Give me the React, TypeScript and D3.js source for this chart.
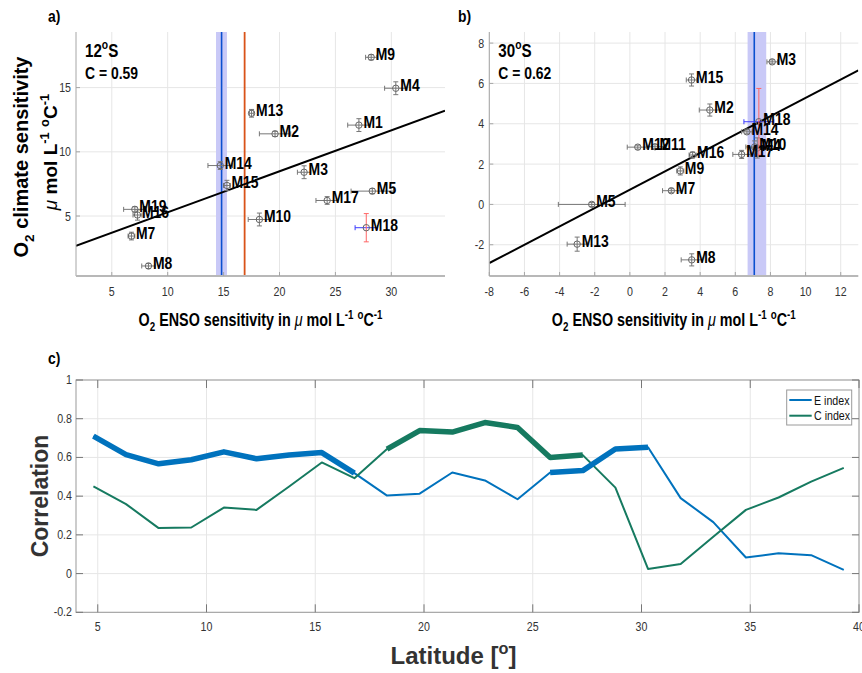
import React from "react";
import * as d3 from "d3";

// ---------------- DATA ----------------
// Panel a (12°S)
const aNames = ["M1", "M2", "M3", "M4", "M5", "M7", "M8", "M9", "M10", "M13", "M14", "M15", "M16", "M17", "M18", "M19"];
const aEnso = [27.1, 19.6, 22.2, 30.4, 28.3, 6.76, 8.28, 28.2, 18.2, 17.5, 14.7, 15.3, 7.3, 24.26, 27.76, 7.06];
const aClimate = [12.08, 11.4, 8.41, 14.95, 6.94, 3.44, 1.11, 17.36, 4.73, 13.0, 8.93, 7.38, 5.08, 6.21, 4.09, 5.52];
const aEnsoErr = [1.0, 1.4, 0.6, 1.0, 1.9, 0.3, 0.6, 0.5, 1.0, 0.2, 1.1, 0.3, 0.4, 1.0, 1.0, 1.0];
const aClimErr = [0.5, 0.2, 0.5, 0.5, 0.2, 0.3, 0.2, 0.2, 0.5, 0.3, 0.3, 0.4, 0.4, 0.3, 1.1, 0.2];
const aFit = { intercept: 2.1, slope: 0.319 };
const aMean = 14.82;
const aBand = [14.32, 15.3];
const aObs = 16.88;

// Panel b (30°S)
const bNames = ["M2", "M3", "M4", "M5", "M7", "M8", "M9", "M10", "M11", "M12", "M13", "M14", "M15", "M16", "M17", "M18"];
const bEnso = [4.55, 8.1, 7.25, -2.17, 2.36, 3.52, 2.87, 7.1, 1.43, 0.45, -3.0, 6.66, 3.51, 3.57, 6.36, 7.34];
const bClimate = [4.68, 7.07, 2.8, 0.0, 0.68, -2.75, 1.66, 2.85, 2.86, 2.84, -1.97, 3.6, 6.17, 2.45, 2.48, 4.1];
const bEnsoErr = [0.6, 0.3, 0.5, 1.9, 0.5, 0.6, 0.2, 0.5, 0.5, 0.6, 0.57, 0.3, 0.3, 0.2, 0.5, 0.85];
const bClimErr = [0.3, 0.1, 0.5, 0.1, 0.1, 0.3, 0.2, 0.3, 0.1, 0.1, 0.35, 0.1, 0.3, 0.15, 0.2, 1.65];
const bFit = { intercept: 0.73, slope: 0.455 };
const bMean = 7.08;
const bBand = [6.7, 7.76];

// Panel c
const latitudes = [4.8, 6.3, 7.8, 9.3, 10.8, 12.3, 13.8, 15.3, 16.8, 18.3, 19.8, 21.3, 22.8, 24.3, 25.8, 27.3, 28.8, 30.3, 31.8, 33.3, 34.8, 36.3, 37.8, 39.3];
const eIndex = [0.71, 0.615, 0.567, 0.588, 0.629, 0.593, 0.613, 0.625, 0.519, 0.403, 0.413, 0.522, 0.481, 0.384, 0.522, 0.532, 0.644, 0.653, 0.39, 0.266, 0.083, 0.105, 0.095, 0.019];
const cIndex = [0.45, 0.359, 0.235, 0.238, 0.341, 0.329, 0.45, 0.574, 0.493, 0.643, 0.739, 0.731, 0.78, 0.755, 0.6, 0.612, 0.444, 0.024, 0.05, 0.19, 0.329, 0.393, 0.475, 0.546];
const eSignificant = [1, 1, 1, 1, 1, 1, 1, 1, 1, 0, 0, 0, 0, 0, 1, 1, 1, 1, 0, 0, 0, 0, 0, 0];
const cSignificant = [0, 0, 0, 0, 0, 0, 0, 0, 0, 1, 1, 1, 1, 1, 1, 1, 0, 0, 0, 0, 0, 0, 0, 0];

const aXTicks = [5, 10, 15, 20, 25, 30];
const aYTicks = [5, 10, 15];
const bXTicks = [-8, -6, -4, -2, 0, 2, 4, 6, 8, 10, 12];
const bYTicks = [-2, 0, 2, 4, 6, 8];
const cXTicks = [5, 10, 15, 20, 25, 30, 35, 40];
const cYTicks = [-0.2, 0, 0.2, 0.4, 0.6, 0.8, 1];

// ---------------- STYLE ----------------
const REG = "'Liberation Sans', Arial, sans-serif";
const GRID = "#e6e6e6";
const AXIS = "#a6a6a6";
const TICKTXT = "#333";
const E_COL = "#0072BD";
const C_COL = "#167a60";
const SQ = 0.82; // horizontal condensation of narrow text

type Part = { t: string; s?: "sup" | "sub" };

function Rich({ parts, ...rest }: { parts: Part[]; [k: string]: any }) {
  let cur = 0;
  const fs = parseFloat(rest.fontSize) || 16;
  return (
    <text {...rest}>
      {parts.map((p, i) => {
        const target = p.s === "sup" ? -0.42 * fs : p.s === "sub" ? 0.3 * fs : 0;
        const dy = target - cur;
        cur = target;
        return (
          <tspan key={i} dy={dy} fontSize={p.s ? fs * 0.68 : fs} fontStyle={p.t === "μ" ? "italic" : undefined} fontWeight={p.t === "μ" ? "normal" : undefined}>
            {p.t}
          </tspan>
        );
      })}
    </text>
  );
}

// condensed text: rendered in Liberation Sans, squeezed horizontally
function NText({ x, y, parts, text, anchor, size, bold, fill }: any) {
  const p: Part[] = parts || [{ t: String(text) }];
  return (
    <g transform={`translate(${x},${y}) scale(${SQ},1)`}>
      <Rich x={0} y={0} textAnchor={anchor || "start"} fontFamily={REG} fontWeight={bold ? "bold" : "normal"} fontSize={size} fill={fill || "#000"} parts={p} />
    </g>
  );
}

const xLabelParts: Part[] = [
  { t: "O" }, { t: "2", s: "sub" }, { t: " ENSO sensitivity in " }, { t: "μ" }, { t: " mol L" },
  { t: "-1", s: "sup" }, { t: " " }, { t: "o", s: "sup" }, { t: "C" }, { t: "-1", s: "sup" },
];

function Scatter({ names, xs, ys, xe, ye, x, y, x0, x1, y0, y1, xTicks, yTicks, fit, mean, band, obs, lat, corr, tag }: any) {
  const n = names.length;
  const fitLine = d3.line<number>().x((v) => x(v)).y((v) => y(fit.intercept + fit.slope * v));
  const [dx0, dx1] = x.domain();
  const clipId = "clip" + tag;
  return (
    <g>
      <defs>
        <clipPath id={clipId}>
          <rect x={x0} y={y1} width={x1 - x0} height={y0 - y1} />
        </clipPath>
      </defs>
      {xTicks.map((t: number) => (
        <line key={"gx" + t} x1={x(t)} x2={x(t)} y1={y0} y2={y1} stroke={GRID} />
      ))}
      {yTicks.map((t: number) => (
        <line key={"gy" + t} x1={x0} x2={x1} y1={y(t)} y2={y(t)} stroke={GRID} />
      ))}
      <rect x={x(band[0])} y={y1} width={x(band[1]) - x(band[0])} height={y0 - y1} fill="#c9c9f7" />
      <line x1={x(mean)} x2={x(mean)} y1={y0} y2={y1} stroke="#0a4fd0" strokeWidth={1.6} />
      {obs !== undefined && <line x1={x(obs)} x2={x(obs)} y1={y0} y2={y1} stroke="#d95319" strokeWidth={1.8} />}
      <path d={fitLine([dx0, dx1]) || ""} stroke="#000" strokeWidth={2} fill="none" clipPath={`url(#${clipId})`} />
      {d3.range(n).map((i) => {
        const special = names[i] === "M18";
        const hc = special ? "#3b3bff" : "#777";
        const vc = special ? "#ff6666" : "#777";
        const cx = x(xs[i]);
        const cy = y(ys[i]);
        const xa = x(xs[i] - xe[i]);
        const xb = x(xs[i] + xe[i]);
        const ya = y(ys[i] - ye[i]);
        const yb = y(ys[i] + ye[i]);
        return (
          <g key={names[i]}>
            <line x1={xa} x2={xb} y1={cy} y2={cy} stroke={hc} strokeWidth={1} />
            <line x1={xa} x2={xa} y1={cy - 2.5} y2={cy + 2.5} stroke={hc} strokeWidth={1} />
            <line x1={xb} x2={xb} y1={cy - 2.5} y2={cy + 2.5} stroke={hc} strokeWidth={1} />
            <line x1={cx} x2={cx} y1={ya} y2={yb} stroke={vc} strokeWidth={1} />
            <line x1={cx - 2.5} x2={cx + 2.5} y1={ya} y2={ya} stroke={vc} strokeWidth={1} />
            <line x1={cx - 2.5} x2={cx + 2.5} y1={yb} y2={yb} stroke={vc} strokeWidth={1} />
            <circle cx={cx} cy={cy} r={3.2} fill="none" stroke="#666" strokeWidth={1} />
          </g>
        );
      })}
      {d3.range(n).map((i) => (
        <NText key={"l" + names[i]} x={x(xs[i]) + 4.5} y={y(ys[i]) + 3} size={17} bold text={names[i]} />
      ))}
      {/* axes */}
      <line x1={x0} x2={x0} y1={y0} y2={y1} stroke={AXIS} strokeWidth={1} />
      <line x1={x0} x2={x1} y1={y0} y2={y0} stroke="#b8b8b8" strokeWidth={2.2} />
      {xTicks.map((t: number) => (
        <g key={"tx" + t}>
          <line x1={x(t)} x2={x(t)} y1={y0} y2={y0 - 4} stroke={AXIS} />
          <NText x={x(t)} y={y0 + 20} anchor="middle" size={13} fill={TICKTXT} text={t} />
        </g>
      ))}
      {yTicks.map((t: number) => (
        <g key={"ty" + t}>
          <line x1={x0} x2={x0 + 4} y1={y(t)} y2={y(t)} stroke={AXIS} />
          <NText x={x0 - 5} y={y(t) + 4.5} anchor="end" size={13} fill={TICKTXT} text={t} />
        </g>
      ))}
      <NText x={x0 + 9} y={y1 + 25} size={18.5} bold parts={[{ t: lat[0] }, { t: "o", s: "sup" }, { t: lat[1] }]} />
      <NText x={x0 + 9} y={y1 + 47} size={17} bold text={corr} />
      <NText x={(x0 + x1) / 2} y={326} anchor="middle" size={17.5} bold parts={xLabelParts} />
    </g>
  );
}

export default function App() {
  // panel a
  const ax0 = 76, ax1 = 445, ay0 = 276, ay1 = 32;
  const ax = d3.scaleLinear().domain([1.8, 34.8]).range([ax0, ax1]);
  const ay = d3.scaleLinear().domain([0.33, 19.33]).range([ay0, ay1]);
  // panel b
  const bx0 = 489.3, bx1 = 858.3;
  const bx = d3.scaleLinear().domain([-8, 13]).range([bx0, bx1]);
  const by = d3.scaleLinear().domain([-3.55, 8.55]).range([ay0, ay1]);
  // panel c
  const cx0 = 76, cx1 = 859, cy0 = 612.3, cy1 = 380;
  const cx = d3.scaleLinear().domain([4, 40]).range([cx0, cx1]);
  const cy = d3.scaleLinear().domain([-0.2, 1]).range([cy0, cy1]);

  const lineOf = (vals: number[], sig?: number[]) =>
    d3
      .line<number>()
      .defined((_, i) => (sig ? sig[i] === 1 : true))
      .x((_, i) => cx(latitudes[i]))
      .y((v) => cy(v))(vals) || "";

  return (
    <svg width={862} height={673} style={{ position: "absolute", left: 0, top: 0, background: "#fff" }}>
      <rect width={862} height={673} fill="#fff" />
      <NText x={48} y={22} size={17} bold text="a)" />
      <NText x={458} y={22} size={17} bold text="b)" />
      <NText x={48} y={364} size={17} bold text="c)" />

      <Scatter names={aNames} xs={aEnso} ys={aClimate} xe={aEnsoErr} ye={aClimErr} x={ax} y={ay}
        x0={ax0} x1={ax1} y0={ay0} y1={ay1} xTicks={aXTicks} yTicks={aYTicks} fit={aFit}
        mean={aMean} band={aBand} obs={aObs} lat={["12", "S"]} corr="C = 0.59" tag="a" />
      <Scatter names={bNames} xs={bEnso} ys={bClimate} xe={bEnsoErr} ye={bClimErr} x={bx} y={by}
        x0={bx0} x1={bx1} y0={ay0} y1={ay1} xTicks={bXTicks} yTicks={bYTicks} fit={bFit}
        mean={bMean} band={bBand} lat={["30", "S"]} corr="C = 0.62" tag="b" />

      {/* y label panel a */}
      <g transform="translate(28,157) rotate(-90)">
        <Rich x={0} y={0} textAnchor="middle" fontFamily={REG} fontWeight="bold" fontSize={20} fill="#000"
          parts={[{ t: "O" }, { t: "2", s: "sub" }, { t: " climate sensitivity" }]} />
      </g>
      <g transform="translate(57,152) rotate(-90)">
        <Rich x={0} y={0} textAnchor="middle" fontFamily={REG} fontWeight="bold" fontSize={19} fill="#000"
          parts={[{ t: "μ" }, { t: " mol L" }, { t: "-1", s: "sup" }, { t: " " }, { t: "o", s: "sup" }, { t: "C" }, { t: "-1", s: "sup" }]} />
      </g>

      {/* panel c */}
      {cXTicks.map((t) => (
        <line key={"cgx" + t} x1={cx(t)} x2={cx(t)} y1={cy0} y2={cy1} stroke={GRID} />
      ))}
      {cYTicks.map((t) => (
        <line key={"cgy" + t} x1={cx0} x2={cx1} y1={cy(t)} y2={cy(t)} stroke={GRID} />
      ))}
      <path d={lineOf(eIndex)} stroke={E_COL} strokeWidth={2} fill="none" strokeLinejoin="round" />
      <path d={lineOf(cIndex)} stroke={C_COL} strokeWidth={2} fill="none" strokeLinejoin="round" />
      <path d={lineOf(eIndex, eSignificant)} stroke={E_COL} strokeWidth={5.5} fill="none" strokeLinejoin="round" />
      <path d={lineOf(cIndex, cSignificant)} stroke={C_COL} strokeWidth={5.5} fill="none" strokeLinejoin="round" />
      <rect x={cx0} y={cy1} width={cx1 - cx0} height={cy0 - cy1} fill="none" stroke="#9a9a9a" strokeWidth={1} />
      {cXTicks.map((t) => (
        <g key={"ctx" + t}>
          <line x1={cx(t)} x2={cx(t)} y1={cy0} y2={cy0 - 8} stroke="#777" />
          <line x1={cx(t)} x2={cx(t)} y1={cy1} y2={cy1 + 8} stroke="#777" />
          <NText x={cx(t)} y={cy0 + 19} anchor="middle" size={13} fill={TICKTXT} text={t} />
        </g>
      ))}
      {cYTicks.map((t) => (
        <g key={"cty" + t}>
          <line x1={cx0} x2={cx0 + 7} y1={cy(t)} y2={cy(t)} stroke="#777" />
          <line x1={cx1} x2={cx1 - 7} y1={cy(t)} y2={cy(t)} stroke="#777" />
          <NText x={cx0 - 4} y={cy(t) + 4} anchor="end" size={13} fill={TICKTXT} text={+t.toFixed(1)} />
        </g>
      ))}
      {/* legend */}
      <rect x={786.7} y={390} width={65} height={35} fill="#fff" stroke="#9a9a9a" strokeWidth={1} />
      <line x1={789.3} x2={811.7} y1={400} y2={400} stroke={E_COL} strokeWidth={2} />
      <line x1={789.3} x2={811.7} y1={415.7} y2={415.7} stroke={C_COL} strokeWidth={2} />
      <NText x={814} y={404.5} size={13} fill="#111" text="E index" />
      <NText x={814} y={420.2} size={13} fill="#111" text="C index" />

      <g transform="translate(48,496) rotate(-90)">
        <text x={0} y={0} textAnchor="middle" fontFamily={REG} fontWeight="bold" fontSize={23} fill="#333">
          Correlation
        </text>
      </g>
      <Rich x={(cx0 + cx1) / 2 - 14} y={664} textAnchor="middle" fontFamily={REG} fontWeight="bold" fontSize={24} fill="#333"
        parts={[{ t: "Latitude [" }, { t: "o", s: "sup" }, { t: "]" }]} />
    </svg>
  );
}
